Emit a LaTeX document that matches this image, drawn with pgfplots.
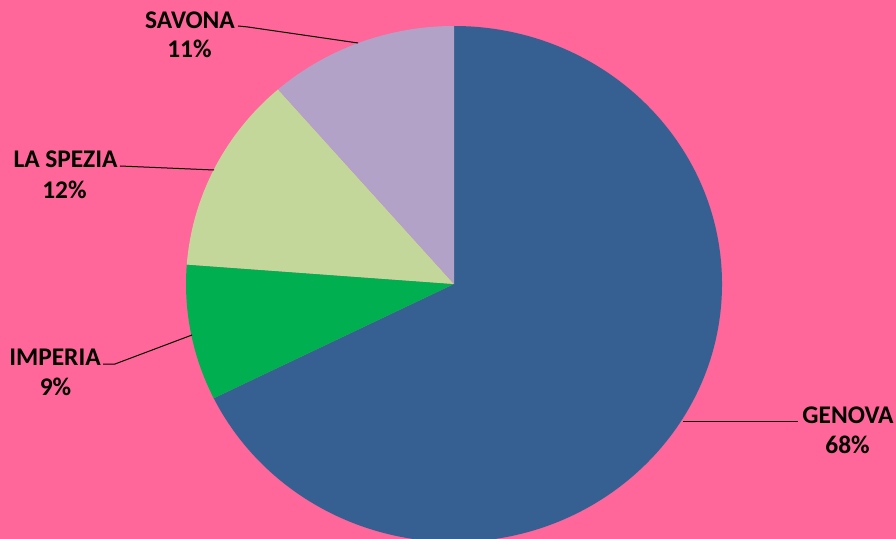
\documentclass[border=0pt]{standalone}
\usepackage{fontspec}
\setmainfont{Carlito}
\usepackage{pgfplots}
\usepackage{pgfplotstable}
\pgfplotsset{compat=1.18}
\definecolor{bgpink}{HTML}{FF6699}
\definecolor{cgenova}{HTML}{376092}
\definecolor{cimperia}{HTML}{00B050}
\definecolor{cspezia}{HTML}{C4D79B}
\definecolor{csavona}{HTML}{B3A2C7}
\pgfplotstableread{
name value
GENOVA 67.7
IMPERIA 8.5
LASPEZIA 12.4
SAVONA 11.4
}\piedata
\begin{document}%
\begin{tikzpicture}[x=1bp,y=1bp]
\pgfplotstablegetelem{0}{value}\of\piedata \let\va\pgfplotsretval
\pgfplotstablegetelem{1}{value}\of\piedata \let\vb\pgfplotsretval
\pgfplotstablegetelem{2}{value}\of\piedata \let\vc\pgfplotsretval
\pgfplotstablegetelem{3}{value}\of\piedata \let\vd\pgfplotsretval
\pgfmathsetmacro\aA{90-3.6*\va}
\pgfmathsetmacro\aB{\aA-3.6*\vb}
\pgfmathsetmacro\aC{\aB-3.6*\vc}
\pgfmathsetmacro\aD{\aC-3.6*\vd}
\pgfmathsetmacro\xA{cos(\aA)}\pgfmathsetmacro\yA{sin(\aA)}
\pgfmathsetmacro\xB{cos(\aB)}\pgfmathsetmacro\yB{sin(\aB)}
\pgfmathsetmacro\xC{cos(\aC)}\pgfmathsetmacro\yC{sin(\aC)}
\fill[bgpink] (0,0) rectangle (896,-539);
\begin{scope}
\clip (0,0) rectangle (896,-539);
\begin{axis}[
  hide axis, scale only axis,
  width=536bp, height=516bp,
  xmin=-1, xmax=1, ymin=-1, ymax=1,
  at={(454bp,-284bp)}, anchor=origin,
  clip=false,
]
\fill[cgenova] (axis cs:0,0) -- (axis cs:0,1) arc[start angle=90, end angle=\aA, x radius=268bp, y radius=258bp] -- cycle;
\fill[cimperia] (axis cs:0,0) -- (axis cs:\xA,\yA) arc[start angle=\aA, end angle=\aB, x radius=268bp, y radius=258bp] -- cycle;
\fill[cspezia] (axis cs:0,0) -- (axis cs:\xB,\yB) arc[start angle=\aB, end angle=\aC, x radius=268bp, y radius=258bp] -- cycle;
\fill[csavona] (axis cs:0,0) -- (axis cs:\xC,\yC) arc[start angle=\aC, end angle=\aD, x radius=268bp, y radius=258bp] -- cycle;
\end{axis}
\end{scope}
% leader lines
\draw[black, line width=1bp] (238,-26) -- (248,-27) -- (358,-43);
\draw[black, line width=1bp] (120,-166) -- (214,-170);
\draw[black, line width=1bp] (103,-364) -- (115,-364) -- (192,-335);
\draw[black, line width=1bp] (683,-421) -- (798,-421);
% labels
\begin{scope}[every node/.style={font=\fontsize{25.5}{30}\selectfont\bfseries, text=black, anchor=base, inner sep=0pt}]
\node at (190,-29) {SAVONA};
\node at (189.5,-58) {11\%};
\node at (65.5,-168) {LA SPEZIA};
\node at (64.5,-199) {12\%};
\node at (55,-365) {IMPERIA};
\node at (55.5,-395) {9\%};
\node at (848,-423) {GENOVA};
\node at (847.5,-453) {68\%};
\end{scope}
\pgfresetboundingbox
\path[use as bounding box] (0,0) rectangle (896,-539);
\end{tikzpicture}%
\end{document}
